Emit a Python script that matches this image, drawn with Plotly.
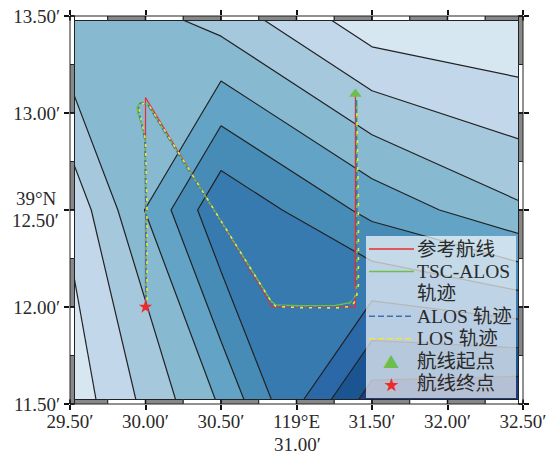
import plotly.graph_objects as go

# contour field
grid_x = [29.5, 30.5, 31.5, 32.5]
grid_y = [11.5, 12.5, 13.5]
grid_z = [
    [0.33, 4.1, 9.6, 9.98],
    [1.2, 6.88, 4.71, 3.12],
    [3.98, 2.55, 0.3, 0.0],
]
band_colors = ["#d7e7f1", "#c3d7ea", "#a6c8dd", "#87b9d1", "#62a3c6",
               "#478cb6", "#377ab0", "#2a68a8", "#1a5592", "#1d3d7e"]

# tracks
ref_x = [31.39, 31.39, 30.84, 30.0, 30.0]
ref_y = [13.09, 12.0, 12.0, 13.08, 12.0]
tsc_x = [31.40, 31.40, 31.40, 31.39, 31.375, 31.348, 31.255, 31.023, 30.864, 30.831, 30.017, 29.983, 29.96, 29.945, 29.95, 29.977, 29.997, 30.003, 30.003]
tsc_y = [13.067, 12.552, 12.12, 12.06, 12.035, 12.02, 12.008, 12.006, 12.01, 12.03, 13.041, 13.054, 13.05, 13.03, 13.0, 12.938, 12.861, 12.5, 12.036]
alos_x = [31.394, 31.40, 31.40, 31.387, 31.37, 31.348, 31.255, 31.023, 30.864, 30.831, 30.017, 29.983, 29.965, 29.955, 29.957, 29.977, 29.997, 30.003, 30.003]
alos_y = [13.067, 12.552, 12.113, 12.05, 12.025, 12.012, 12.0, 12.0, 12.005, 12.021, 13.041, 13.052, 13.048, 13.03, 13.005, 12.938, 12.861, 12.5, 12.036]
los_x = [31.40, 31.41, 31.41, 31.395, 31.375, 31.348, 31.255, 31.023, 30.864, 30.838, 30.022, 29.99, 29.968, 29.958, 29.96, 29.98, 30.0, 30.01, 30.01]
los_y = [13.0, 12.552, 12.113, 12.04, 12.015, 12.002, 11.995, 11.997, 12.003, 12.021, 13.041, 13.05, 13.046, 13.03, 13.005, 12.938, 12.861, 12.5, 12.036]
start_x = [31.39]
start_y = [13.098]
end_x = [30.0]
end_y = [12.0]

# axis ticks
x_ticks = [29.5, 30.0, 30.5, 31.0, 31.5, 32.0, 32.5]
x_labels = ["29.50′", "30.00′", "30.50′", "119°E", "31.50′", "32.00′", "32.50′"]
y_ticks = [11.5, 12.0, 12.5, 13.0, 13.5]
y_labels = ["11.50′", "12.00′", "", "13.00′", "13.50′"]

# legend
legend_names = ["参考航线", "TSC-ALOS", "轨迹", "ALOS 轨迹", "LOS 轨迹", "航线起点", "航线终点"]

SERIF = "Liberation Serif, Noto Sans CJK SC, serif"
TEXT = "#2a2a2a"
W, H = 548, 454
L, R, T, B = 70, 25, 16, 50
PW, PH = W - L - R, H - T - B
BAND = 4.5
RED, GREEN, BLUE, YELLOW = "#ee2a2a", "#6cbf4b", "#3f6fb5", "#f0e636"

stops = []
for i, c in enumerate(band_colors):
    stops += [[i / 10, c], [(i + 1) / 10, c]]

fig = go.Figure()
fig.add_trace(go.Contour(
    x=grid_x, y=grid_y, z=grid_z, zmin=0, zmax=10, colorscale=stops, showscale=False,
    autocontour=False, contours=dict(start=1, end=9, size=1, coloring="fill"),
    line=dict(color="#222222", width=1.2, smoothing=0), hoverinfo="skip", showlegend=False,
))
fig.add_trace(go.Scatter(x=ref_x, y=ref_y, mode="lines", name="参考航线", line=dict(color=RED, width=1.2)))
fig.add_trace(go.Scatter(x=tsc_x, y=tsc_y, mode="lines", name="TSC-ALOS 轨迹", line=dict(color=GREEN, width=1.6)))
fig.add_trace(go.Scatter(x=alos_x, y=alos_y, mode="lines", name="ALOS 轨迹", line=dict(color=BLUE, width=1.7, dash="6px,3px")))
fig.add_trace(go.Scatter(x=los_x, y=los_y, mode="lines", name="LOS 轨迹", line=dict(color=YELLOW, width=1.6, dash="3px,6px")))
fig.add_trace(go.Scatter(x=start_x, y=start_y, mode="markers", name="航线起点", marker=dict(symbol="triangle-up", size=11, color=GREEN)))
fig.add_trace(go.Scatter(x=end_x, y=end_y, mode="markers", name="航线终点", marker=dict(symbol="star", size=10, color=RED)))

# GMT-style fancy frame, bands follow the quarter-graticule
shapes = []
fx, fy = BAND / PW, BAND / PH
nx = (len(x_ticks) - 1) * 2
ny = (len(y_ticks) - 1) * 2
for i in range(nx):
    x0, x1 = i / nx, (i + 1) / nx
    for y0, y1, first in [(1 - fy, 1, "white"), (0, fy, "#888888")]:
        other = "#888888" if first == "white" else "white"
        shapes.append(dict(type="rect", xref="paper", yref="paper", x0=x0, x1=x1, y0=y0, y1=y1,
                           fillcolor=first if i % 2 == 0 else other, line=dict(color="#222222", width=1), layer="above"))
for j in range(ny):
    y1, y0 = 1 - j / ny, 1 - (j + 1) / ny
    for x0, x1, first in [(0, fx, "white"), (1 - fx, 1, "#888888")]:
        other = "#888888" if first == "white" else "white"
        shapes.append(dict(type="rect", xref="paper", yref="paper", x0=x0, x1=x1, y0=y0, y1=y1,
                           fillcolor=first if j % 2 == 0 else other, line=dict(color="#222222", width=1), layer="above"))
for t in x_ticks:
    f = (t - x_ticks[0]) / (x_ticks[-1] - x_ticks[0])
    for y0, y1 in [(0, fy), (1 - fy, 1)]:
        shapes.append(dict(type="line", xref="paper", yref="paper", x0=f, x1=f, y0=y0, y1=y1,
                           line=dict(color="#111111", width=1.5), layer="above"))
for t in y_ticks:
    f = (t - y_ticks[0]) / (y_ticks[-1] - y_ticks[0])
    for x0, x1 in [(0, fx), (1 - fx, 1)]:
        shapes.append(dict(type="line", xref="paper", yref="paper", x0=x0, x1=x1, y0=f, y1=f,
                           line=dict(color="#111111", width=1.5), layer="above"))

# hand-set legend: keeps the tight row pitch of the original
def px(v):
    return (v - 70) / PW
def py(v):
    return 1 - (v - 16) / PH

shapes.append(dict(type="rect", xref="paper", yref="paper", x0=px(366), x1=px(516), y0=py(398), y1=py(236),
                   fillcolor="rgba(255,255,255,0.68)", line=dict(width=0), layer="above"))
ROW0, PITCH = 249, 22.45
samples = [(0, RED, "solid", 1.5), (1, GREEN, "solid", 1.5), (3, BLUE, "6px,3px", 1.5), (4, YELLOW, "6px,3px", 1.5)]
for row, color, dash, width in samples:
    yy = py(ROW0 + row * PITCH)
    shapes.append(dict(type="line", xref="paper", yref="paper", x0=px(369), x1=px(414), y0=yy, y1=yy,
                       line=dict(color=color, width=width, dash=dash), layer="above"))

def label(x, y, text, size=19, anchor="center", family=SERIF, color=TEXT):
    return dict(xref="paper", yref="paper", x=px(x), y=py(y), text=text, showarrow=False,
                xanchor=anchor, yanchor="middle", borderpad=0, font=dict(family=family, size=size, color=color))

annotations = [label(415.5, ROW0 + row * PITCH, name, size=19.5, anchor="left") for row, name in enumerate(legend_names)]
annotations.append(label(391, ROW0 + 5 * PITCH, "▲", size=16, family="Noto Sans CJK SC", color=GREEN))
annotations.append(label(391, ROW0 + 6 * PITCH, "★", size=15, family="Noto Sans CJK SC", color=RED))
# split two-line axis labels with the original's tighter leading
annotations.append(label(36, 198, "39°N"))
annotations.append(label(35, 220, "12.50′"))
annotations.append(label(297, 444, "31.00′"))

axis_common = dict(showgrid=False, zeroline=False, ticks="outside", ticklen=5, tickwidth=1.5,
                   tickcolor="#111111", showline=False, automargin=False, mirror="ticks",
                   ticklabeloverflow="allow", tickfont=dict(family=SERIF, size=19, color=TEXT))
fig.update_layout(
    width=W, height=H, margin=dict(l=L, r=R, t=T, b=B), autosize=False, showlegend=False,
    paper_bgcolor="white", plot_bgcolor="white", shapes=shapes, annotations=annotations,
    xaxis=dict(range=[x_ticks[0], x_ticks[-1]], tickmode="array", tickvals=x_ticks, ticktext=x_labels,
               ticklabelstandoff=-5, **axis_common),
    yaxis=dict(range=[y_ticks[0], y_ticks[-1]], tickmode="array", tickvals=y_ticks, ticktext=y_labels, **axis_common),
)
fig.write_html("out.html", config={"displayModeBar": False}, post_script="document.body.style.margin='0';")
